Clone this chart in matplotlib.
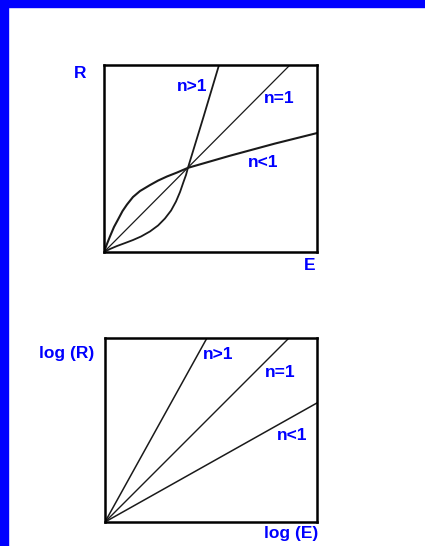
import matplotlib
matplotlib.use('Agg')
import matplotlib.pyplot as plt
from matplotlib.patches import Rectangle

# linear plot: R vs E (axes run 0..1)
e_gt1 = [0, 0.028, 0.061, 0.099, 0.136, 0.174, 0.216, 0.254, 0.286, 0.315,
         0.338, 0.357, 0.373, 0.385, 0.394, 0.467, 0.54]
r_gt1 = [0, 0.016, 0.032, 0.048, 0.064, 0.083, 0.110, 0.142, 0.179, 0.222,
         0.270, 0.321, 0.374, 0.412, 0.450, 0.722, 1.0]
e_eq1 = [0, 0.873]
r_eq1 = [0, 1.0]
e_lt1 = [0, 0.014, 0.028, 0.047, 0.066, 0.087, 0.108, 0.136, 0.169, 0.216,
         0.254, 0.296, 0.343, 0.394, 0.592, 0.803, 1.0]
r_lt1 = [0, 0.043, 0.083, 0.134, 0.174, 0.219, 0.254, 0.294, 0.326, 0.358,
         0.382, 0.404, 0.425, 0.450, 0.515, 0.580, 0.636]

# log-log plot: straight lines from the origin
loge_gt1 = [0, 0.481]
logr_gt1 = [0, 1.0]
loge_eq1 = [0, 0.868]
logr_eq1 = [0, 1.0]
loge_lt1 = [0, 1.0]
logr_lt1 = [0, 0.647]

W, H = 425, 546
blue = '#0000ff'
ink = '#1a1a1a'

fig = plt.figure(figsize=(W / 100, H / 100), dpi=100)
fig.patch.set_facecolor('white')

# blue frame strips along the top and left edges
fig.patches.append(Rectangle((0, 1 - 7 / H), 1, 7 / H, transform=fig.transFigure,
                             color=blue, zorder=0))
fig.patches.append(Rectangle((0, 0), 8 / W, 1, transform=fig.transFigure,
                             color=blue, zorder=0))


def box(left, top, right, bottom):
    ax = fig.add_axes([left / W, 1 - bottom / H, (right - left) / W, (bottom - top) / H])
    ax.set_xlim(0, 1)
    ax.set_ylim(0, 1)
    ax.set_xticks([])
    ax.set_yticks([])
    for s in ax.spines.values():
        s.set_linewidth(1.8)
        s.set_color('black')
    return ax


def label(x, y, s):
    fig.text(x / W, 1 - y / H, s, ha='center', va='baseline', color=blue,
             fontsize=12.5, fontweight='bold', family=['Liberation Sans', 'DejaVu Sans'])


ax1 = box(104, 65, 317, 252)
ax1.plot(e_gt1, r_gt1, color=ink, lw=1.3, solid_capstyle='round', solid_joinstyle='round')
ax1.plot(e_eq1, r_eq1, color=ink, lw=0.9)
ax1.plot(e_lt1, r_lt1, color=ink, lw=1.5, solid_capstyle='round', solid_joinstyle='round')

ax2 = box(105, 338, 317, 522)
ax2.plot(loge_gt1, logr_gt1, color=ink, lw=1.1)
ax2.plot(loge_eq1, logr_eq1, color=ink, lw=1.0)
ax2.plot(loge_lt1, logr_lt1, color=ink, lw=1.1)

label(80, 78, 'R')
label(192, 91, 'n>1')
label(279, 103, 'n=1')
label(263, 167, 'n<1')
label(310, 270, 'E')

label(67, 358, 'log (R)')
label(218, 359, 'n>1')
label(280, 377, 'n=1')
label(292, 440, 'n<1')
label(291, 538, 'log (E)')

fig.savefig('out.png', dpi=100, facecolor='white')
